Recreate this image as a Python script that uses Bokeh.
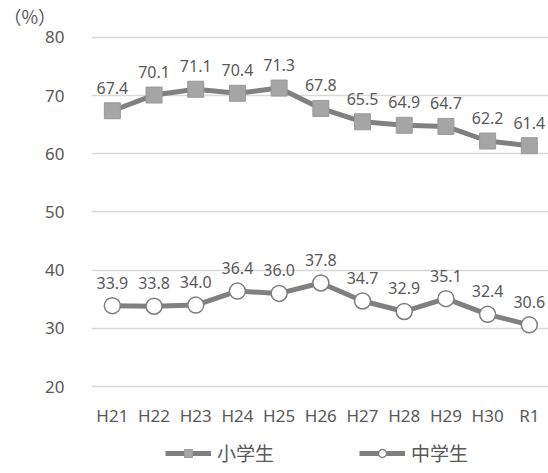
from bokeh.plotting import figure
from bokeh.layouts import column
from bokeh.models import ColumnDataSource, FixedTicker, Range1d, Legend, LegendItem, Title
from bokeh.core.properties import value
from bokeh.embed import file_html
from bokeh.resources import INLINE

years = ["H21", "H22", "H23", "H24", "H25", "H26", "H27", "H28", "H29", "H30", "R1"]
elementary = [67.4, 70.1, 71.1, 70.4, 71.3, 67.8, 65.5, 64.9, 64.7, 62.2, 61.4]
junior = [33.9, 33.8, 34.0, 36.4, 36.0, 37.8, 34.7, 32.9, 35.1, 32.4, 30.6]
y_ticks = [20, 30, 40, 50, 60, 70, 80]
series_names = ["小学生", "中学生"]
unit_label = "（%）"

FONT = "Noto Sans"
CJK = "Noto Sans CJK JP"
TXT = "#595959"
LINE = "#808080"
SQ_FILL, SQ_LINE = "#a5a5a5", "#9a9a9a"
CI_FILL, CI_LINE = "white", "#7f7f7f"

xs = list(range(len(years)))
src = ColumnDataSource(dict(
    x=xs, e=elementary, j=junior,
    el=["%.1f" % v for v in elementary],
    jl=["%.1f" % v for v in junior],
))

p = figure(width=548, height=430, output_backend="svg", toolbar_location=None,
           x_range=Range1d(-0.5, 10.46), y_range=Range1d(18.97, 81.54),
           min_border_left=91, min_border_right=0, min_border_top=22, min_border_bottom=38)
p.outline_line_color = None
p.background_fill_color = "white"
p.border_fill_color = "white"

p.title = Title(text=unit_label, align="left", offset=-88, standoff=0,
                text_font=CJK, text_font_size="18px", text_font_style="normal",
                text_color=TXT)

# grid
p.xgrid.grid_line_color = None
p.ygrid.grid_line_color = "#d9d9d9"
p.ygrid.grid_line_width = 1.3
p.ygrid.ticker = FixedTicker(ticks=y_ticks)

# axes
p.yaxis.ticker = FixedTicker(ticks=y_ticks)
p.yaxis.axis_line_color = None
p.yaxis.major_tick_line_color = None
p.yaxis.minor_tick_line_color = None
p.yaxis.major_label_standoff = 21
p.yaxis.major_label_text_font = FONT
p.yaxis.major_label_text_font_size = "17px"
p.yaxis.major_label_text_color = TXT

p.xaxis.ticker = FixedTicker(ticks=xs)
p.xaxis.major_label_overrides = {i: t for i, t in zip(xs, years)}
p.xaxis.axis_line_color = None
p.xaxis.major_tick_line_color = None
p.xaxis.minor_tick_line_color = None
p.xaxis.major_label_standoff = 5
p.xaxis.major_label_text_font = FONT
p.xaxis.major_label_text_font_size = "17px"
p.xaxis.major_label_text_color = TXT

# series
p.line("x", "e", source=src, line_color=LINE, line_width=5)
p.scatter("x", "e", source=src, marker="square", size=16,
          fill_color=SQ_FILL, line_color=SQ_LINE, line_width=1)
p.line("x", "j", source=src, line_color=LINE, line_width=5)
p.scatter("x", "j", source=src, marker="circle", size=16,
          fill_color=CI_FILL, line_color=CI_LINE, line_width=1.5)

for col, ycol in (("el", "e"), ("jl", "j")):
    p.text("x", ycol, text=col, source=src, text_align="center",
           text_baseline="alphabetic", y_offset=-23,
           text_font=value(FONT), text_font_size="16px", text_color=TXT)

# legend strip (separate figure so the legend is not clipped)
lg = figure(width=548, height=43, output_backend="svg", toolbar_location=None,
            x_range=Range1d(0, 1), y_range=Range1d(0, 1),
            min_border=0, outline_line_color=None)
lg.axis.visible = False
lg.grid.visible = False
lg.border_fill_color = "white"
dummy = ColumnDataSource(dict(x=[-5, -4], y=[-5, -5]))
dl1 = lg.line("x", "y", source=dummy, line_color=LINE, line_width=5)
ds1 = lg.scatter("x", "y", source=dummy, marker="square", size=10,
                 fill_color=SQ_FILL, line_color=SQ_LINE, line_width=1)
dl2 = lg.line("x", "y", source=dummy, line_color=LINE, line_width=5)
ds2 = lg.scatter("x", "y", source=dummy, marker="circle", size=12,
                 fill_color=CI_FILL, line_color=CI_LINE, line_width=1.5)

legend = Legend(items=[LegendItem(label=series_names[0], renderers=[dl1, ds1]),
                       LegendItem(label=series_names[1], renderers=[dl2, ds2])],
                orientation="horizontal", location=(74, 7),
                border_line_color=None, background_fill_alpha=0,
                glyph_width=46, glyph_height=20, label_standoff=6, spacing=85,
                padding=0, margin=0,
                label_text_font=CJK, label_text_font_size="19px", label_text_color=TXT)
lg.add_layout(legend, "center")

layout = column(p, lg, spacing=0)
open("out.html", "w").write(file_html(layout, INLINE))
